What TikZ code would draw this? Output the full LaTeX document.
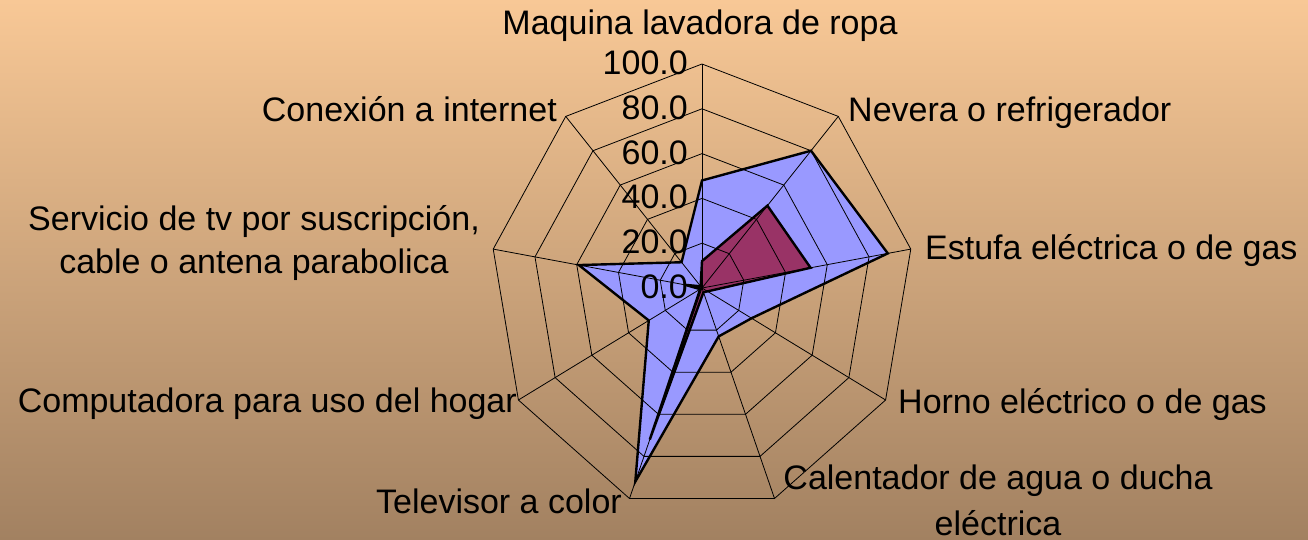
\documentclass[tikz,border=0pt]{standalone}
\usepackage{fontspec}
\setmainfont{Liberation Sans}
\definecolor{bgtop}{RGB}{248,200,150}
\definecolor{bgbot}{RGB}{162,129,97}
\definecolor{serA}{RGB}{153,153,255}
\definecolor{serB}{RGB}{153,51,102}
\begin{document}
\begin{tikzpicture}[x=1pt,y=-1pt,
  lbl/.style={font=\fontsize{34}{40}\selectfont, inner sep=0pt, text=black},
  gridline/.style={line width=0.8pt, black},
  serieline/.style={line width=2.4pt, black, line join=miter},
]
\useasboundingbox (0,0) rectangle (1308,540);
\shade[top color=bgtop, bottom color=bgbot] (0,0) rectangle (1308,540);
\coordinate (c) at (702,288);
% series coordinates
\foreach \v [count=\i from 0] in {48,80,89,27,23,92,29,59,15}
  \coordinate (b\i) at ({702+2.12*\v*sin(40*\i)},{288-2.24*\v*cos(40*\i)});
\foreach \v [count=\i from 0] in {12,48,52,3,2,72,1,8,1}
  \coordinate (m\i) at ({702+2.12*\v*sin(40*\i)},{288-2.24*\v*cos(40*\i)});
\foreach \i in {0,...,8}
  \coordinate (o\i) at ({702+212*sin(40*\i)},{288-224*cos(40*\i)});
% fills
\fill[serA] (b0) -- (b1) -- (b2) -- (b3) -- (b4) -- (b5) -- (b6) -- (b7) -- (b8) -- cycle;
\fill[serB] (m0) -- (m1) -- (m2) -- (m3) -- (m4) -- (m5) -- (m6) -- (m7) -- (m8) -- cycle;
% grid
\foreach \r in {20,40,60,80,100}
  \draw[gridline] ({702},{288-2.24*\r})
    \foreach \k in {1,...,8} { -- ({702+2.12*\r*sin(40*\k)},{288-2.24*\r*cos(40*\k)}) } -- cycle;
\foreach \i in {0,...,8}
  \draw[gridline] (c) -- (o\i);
% outlines
\draw[serieline] (b0) -- (b1) -- (b2) -- (b3) -- (b4) -- (b5) -- (b6) -- (b7) -- (b8) -- cycle;
\draw[serieline] (m0) -- (m1) -- (m2) -- (m3) -- (m4) -- (m5) -- (m6) -- (m7) -- (m8) -- cycle;
% tick labels
\foreach \t [count=\k from 0] in {100.0,80.0,60.0,40.0,20.0,0.0}
  \node[lbl, anchor=base east] (t\k) at (688,{75+44.6*\k}) {\t};
% category labels
\node[lbl, anchor=base] (l0) at (700,35) {Maquina lavadora de ropa};
\node[lbl, anchor=base west] (l1) at (848,122) {Nevera o refrigerador};
\node[lbl, anchor=base west] (l2) at (925,259) {Estufa eléctrica o de gas};
\node[lbl, anchor=base west] (l3) at (898,413) {Horno eléctrico o de gas};
\node[lbl, anchor=base] (l4a) at (998,489) {Calentador de agua o ducha};
\node[lbl, anchor=base] (l4b) at (998,535) {eléctrica};
\node[lbl, anchor=base east] (l5) at (622,513) {Televisor a color};
\node[lbl, anchor=base east] (l6) at (517,412) {Computadora para uso del hogar};
\node[lbl, anchor=base] (l7a) at (254,230) {Servicio de tv por suscripción,};
\node[lbl, anchor=base] (l7b) at (254,273) {cable o antena parabolica};
\node[lbl, anchor=base east] (l8) at (557,122) {Conexión a internet};
\end{tikzpicture}
\end{document}
